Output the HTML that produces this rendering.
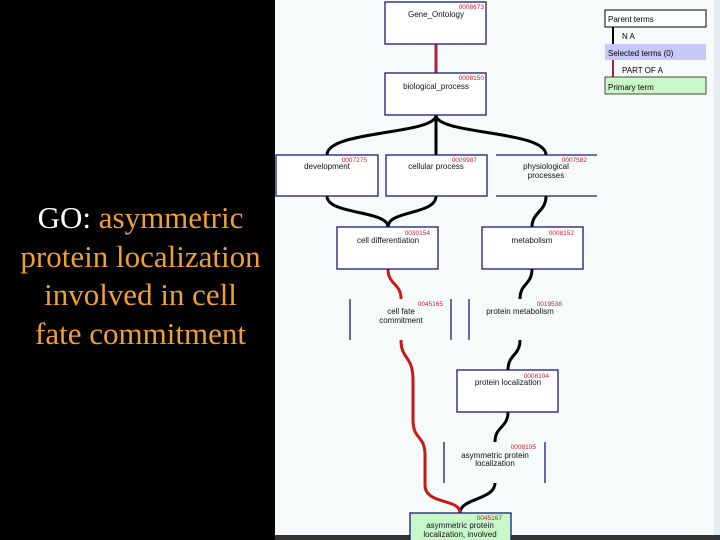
<!DOCTYPE html>
<html><head><meta charset="utf-8"><style>
body{margin:0;width:720px;height:540px;overflow:hidden;background:#000;position:relative;font-family:"Liberation Sans",sans-serif}
#t{position:absolute;left:0;top:199px;width:281px;text-align:center;font-family:"Liberation Serif",serif;font-size:31px;line-height:38.5px;color:#f0a030;white-space:nowrap}
</style></head><body>
<div id="t"><span style="color:#fff">GO:</span> asymmetric<br>protein localization<br>involved in cell<br>fate commitment</div>
<svg width="720" height="540" style="position:absolute;left:0;top:0">
<rect x="275" y="0" width="445" height="536" fill="#f7fafa"/>
<rect x="714" y="0" width="6" height="536" fill="#e4eef2"/>
<rect x="275" y="535" width="445" height="5" fill="#333"/>
<g fill="none" stroke-width="3" stroke="#000">
<path d="M436 115 C436 135 327 130 327 155"/>
<path d="M436 115 L436 155"/>
<path d="M436 115 C436 135 546 130 546 155"/>
<path d="M327 196 C327 215 388 210 388 227"/>
<path d="M436 196 C436 215 388 210 388 227"/>
<path d="M546 196 C546 212 532 212 532 227"/>
<path d="M532 269 C532 285 520 283 520 299"/>
<path d="M520 340 C520 356 508 354 508 370"/>
<path d="M508 412 C508 428 495 426 495 442"/>
<path d="M495 483 C495 500 460 498 460 513"/>
</g>
<g fill="none" stroke-width="3" stroke="#c81818">
<path d="M388 269 C388 285 401 283 401 299"/>
<path d="M401 340 C401 360 413 355 413 380 L413 420 C413 440 425 435 425 455 L425 485 C425 505 460 498 460 513"/>
</g>
<line x1="436" y1="44" x2="436" y2="73" stroke="#a0283c" stroke-width="3"/>
<g fill="#fff" stroke="#1a1a7a" stroke-width="1.3">
<rect x="385" y="2" width="101" height="42"/>
<rect x="385" y="73" width="101" height="42"/>
<rect x="276" y="155" width="102" height="41"/>
<rect x="386" y="155" width="101" height="41"/>
<rect x="337" y="227" width="101" height="42"/>
<rect x="482" y="227" width="101" height="42"/>
<rect x="457" y="370" width="101" height="42"/>
<rect x="410" y="513" width="101" height="30" fill="#c8f8c8"/>
</g>
<g stroke="#1a1a7a" stroke-width="1.3">
<line x1="496" y1="155" x2="597" y2="155"/><line x1="496" y1="196" x2="597" y2="196"/>
<line x1="350" y1="299" x2="350" y2="340"/><line x1="451" y1="299" x2="451" y2="340"/>
<line x1="469" y1="299" x2="469" y2="340"/>
<line x1="444" y1="442" x2="444" y2="483"/><line x1="545" y1="442" x2="545" y2="483"/>
</g>
<rect x="605" y="10" width="101" height="17" fill="#fff" stroke="#000"/>
<line x1="613" y1="27" x2="613" y2="44" stroke="#000" stroke-width="2"/>
<rect x="605" y="44" width="101" height="16" fill="#c8c8f8"/>
<line x1="613" y1="60" x2="613" y2="77" stroke="#a0283c" stroke-width="2"/>
<rect x="605" y="77" width="101" height="17" fill="#c8f8c8" stroke="#000" stroke-width=".7"/>
<g font-size="8" fill="#000">
<text x="608" y="22">Parent terms</text>
<text x="622" y="39">N A</text>
<text x="608" y="56">Selected terms (0)</text>
<text x="622" y="73">PART OF A</text>
<text x="608" y="90">Primary term</text>
</g>
<g font-size="6.5" fill="#c02030" text-anchor="end">
<text x="484" y="9">0008673</text><text x="484" y="80">0008150</text>
<text x="367" y="162">0007275</text><text x="477" y="162">0009987</text><text x="587" y="162">0007582</text>
<text x="430" y="235">0030154</text><text x="574" y="235">0008152</text>
<text x="443" y="306">0045165</text><text x="562" y="306">0019538</text>
<text x="549" y="378">0008104</text><text x="536" y="449">0008105</text><text x="502" y="520">0045167</text>
</g>
<g font-size="8" fill="#111" text-anchor="middle">
<text x="436" y="17">Gene_Ontology</text>
<text x="436" y="89">biological_process</text>
<text x="327" y="169">development</text>
<text x="436" y="169">cellular process</text>
<text x="546" y="169">physiological</text><text x="546" y="178">processes</text>
<text x="388" y="243">cell differentiation</text>
<text x="532" y="243">metabolism</text>
<text x="401" y="314">cell fate</text><text x="401" y="323">commitment</text>
<text x="520" y="314">protein metabolism</text>
<text x="508" y="385">protein localization</text>
<text x="495" y="458">asymmetric protein</text><text x="495" y="466">localization</text>
<text x="460" y="528">asymmetric protein</text><text x="460" y="537">localization, involved</text>
</g>
</svg>
</body></html>
